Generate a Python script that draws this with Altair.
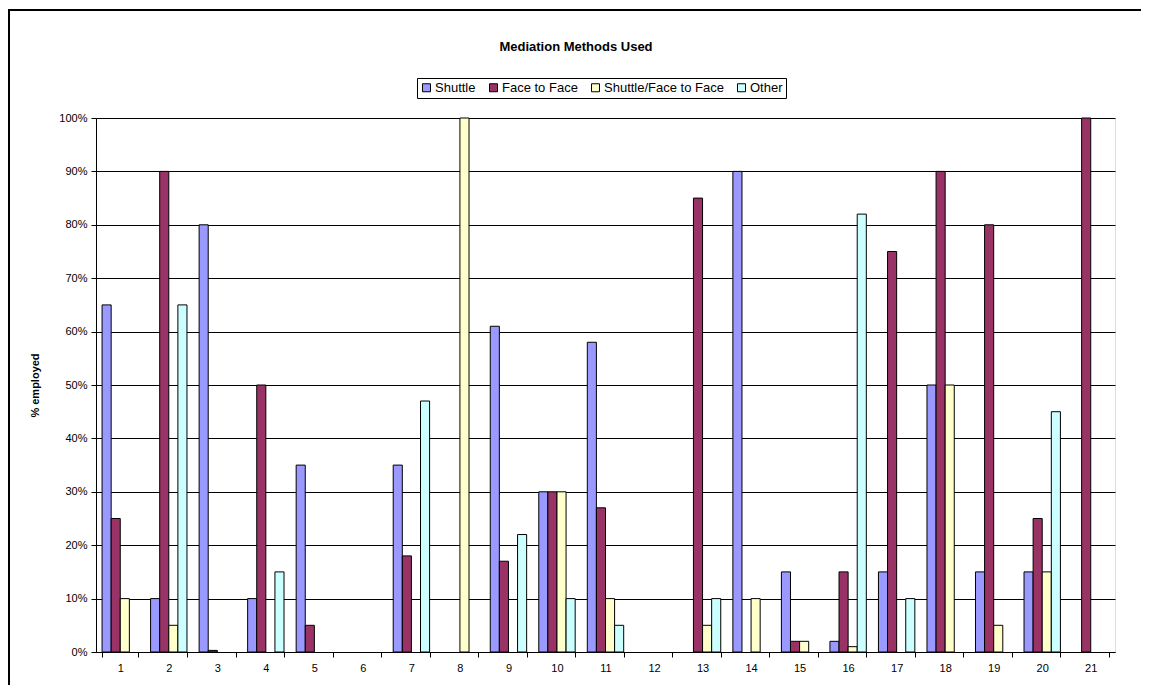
import altair as alt
import pandas as pd

categories = [str(i) for i in range(1, 22)]
series = ["Shuttle", "Face to Face", "Shuttle/Face to Face", "Other"]
shuttle = [65, 10, 80, 10, 35, 0, 35, 0, 61, 30, 58, 0, 0, 90, 15, 2, 15, 50, 15, 15, 0]
face_to_face = [25, 90, 0.3, 50, 5, 0, 18, 0, 17, 30, 27, 0, 85, 0, 2, 15, 75, 90, 80, 25, 100]
shuttle_face = [10, 5, 0, 0, 0, 0, 0, 100, 0, 30, 10, 0, 5, 10, 2, 1, 0, 50, 5, 15, 0]
other = [0, 65, 0, 15, 0, 0, 47, 0, 22, 10, 5, 0, 10, 0, 0, 82, 10, 0, 0, 45, 0]
colors = ["#9999FF", "#993366", "#FFFFCC", "#CCFFFF"]
title_text = "Mediation Methods Used"

rows = []
for name, vals in zip(series, [shuttle, face_to_face, shuttle_face, other]):
    for c, v in zip(categories, vals):
        rows.append({"cat": c, "series": name, "value": v / 100.0})
df = pd.DataFrame(rows)

FONT = "Liberation Sans"
W, H = 1019, 534

bars = alt.Chart(df).transform_filter("datum.value > 0").mark_bar(
    stroke="black", strokeWidth=1
).encode(
    x=alt.X("cat:N", sort=categories, title=None,
            scale=alt.Scale(domain=categories, paddingInner=0.25, paddingOuter=0.125),
            axis=alt.Axis(labelAngle=0, tickBand="extent", domainColor="black",
                          tickColor="black", tickSize=5, labelPadding=5,
                          labelFontSize=11, labelFont=FONT, labelColor="black",
                          grid=False)),
    xOffset=alt.XOffset("series:N", sort=series, scale=alt.Scale(domain=series)),
    y=alt.Y("value:Q", title="% employed",
            scale=alt.Scale(domain=[0, 1], nice=False),
            axis=alt.Axis(format=".0%", values=[i / 10 for i in range(11)],
                          domainColor="black", tickColor="black", tickSize=5,
                          gridColor="black", gridOpacity=1, gridWidth=1,
                          labelFontSize=11, labelFont=FONT, labelColor="black",
                          labelPadding=4, titleFont=FONT, titleFontSize=11,
                          titleFontWeight="bold", titleColor="black",
                          titlePadding=18)),
    color=alt.Color("series:N", sort=series,
                    scale=alt.Scale(domain=series, range=colors),
                    legend=alt.Legend(title=None, orient="none", legendX=321,
                                      legendY=-40, direction="horizontal",
                                      strokeColor="black", padding=3,
                                      symbolType="square", symbolSize=64,
                                      symbolStrokeColor="black",
                                      symbolStrokeWidth=1, symbolOpacity=1,
                                      labelFont=FONT, labelFontSize=13,
                                      labelColor="black", columnPadding=11,
                                      labelOffset=2, fillColor="white")),
)

frame = pd.DataFrame({"k": [0]})
top_line = alt.Chart(frame).mark_rule(stroke="black", strokeWidth=2).encode(
    x=alt.value(-87), x2=alt.value(1160 - 96), y=alt.value(-108),
)
left_line = alt.Chart(frame).mark_rule(stroke="black", strokeWidth=2).encode(
    x=alt.value(-87), y=alt.value(-109), y2=alt.value(685 - 118),
)

title = alt.Chart(pd.DataFrame({"t": [title_text]})).mark_text(
    font=FONT, fontSize=13, fontWeight="bold", color="black",
    align="center", baseline="alphabetic"
).encode(
    text="t:N", x=alt.value(576 - 96), y=alt.value(51 - 118),
)

chart = alt.layer(bars, top_line, left_line, title).properties(
    width=W, height=H,
    autosize=alt.AutoSizeParams(type="none"),
    padding={"left": 88, "top": 110, "right": 26, "bottom": 33},
).configure_view(fill="#C0C0C0", stroke="#808080", strokeWidth=1).configure(
    background="white"
)

chart.save("out.html", embed_options={"renderer": "svg", "actions": False})
